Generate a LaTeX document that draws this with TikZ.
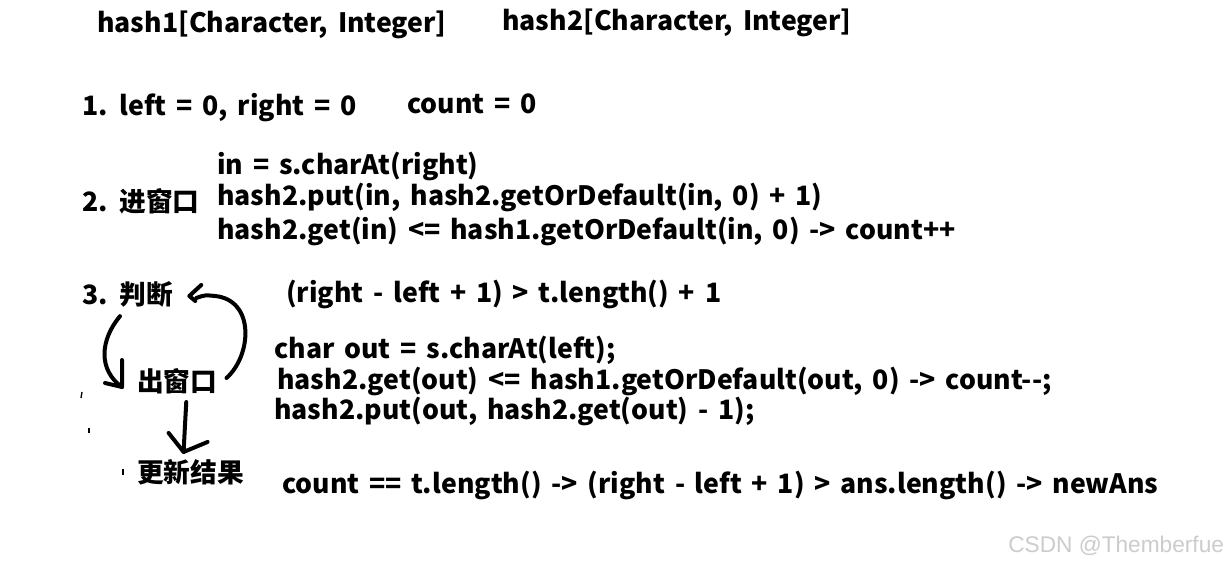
\documentclass[tikz,border=0pt]{standalone}
\usepackage{fontspec}
\setmainfont{Noto Sans CJK SC}[WordSpace=1.6]
\newfontfamily\markfont{Liberation Sans}
\usetikzlibrary{positioning}

\tikzset{
  txt/.style={anchor=west, inner sep=0pt, font=\fontsize{20}{24}\selectfont\bfseries},
  pen/.style={line width=3pt, line cap=round, line join=round},
  speck/.style={line width=1pt}
}

\begin{document}
\begin{tikzpicture}[x=0.75pt, y=-0.75pt]
    \useasboundingbox[fill=white] (0,0) rectangle (1224,566);
    % Hash maps
    \node[txt] (hashA) at (97,25) {hash1[Character, Integer]};
    \node[txt] (hashB) at (502,23) {hash2[Character, Integer]};

    % Step 1
    \node[txt] (init) at (82,108) {1. left = 0, right = 0};
    \node[txt] (cnt) at (407,104) {count = 0};

    % Step 2
    \node[txt] (enter) at (82,201) {2. 进窗口};
    \node[txt] (inA) at (217,166) {in = s.charAt(right)};
    \node[txt] (inB) at (217,197) {hash2.put(in, hash2.getOrDefault(in, 0) + 1)};
    \node[txt] (inC) at (217,231) {hash2.get(in) <= hash1.getOrDefault(in, 0) -> count++};

    % Step 3
    \node[txt] (judge) at (82,294) {3. 判断};
    \node[txt] (cond) at (286,294) {(right - left + 1) > t.length() + 1};
    \node[txt] (out) at (137,381) {出窗口};
    \node[txt] (outA) at (274,350) {char out = s.charAt(left);};
    \node[txt] (outB) at (277,381) {hash2.get(out) <= hash1.getOrDefault(out, 0) -> count-{}-;};
    \node[txt] (outC) at (274,411) {hash2.put(out, hash2.get(out) - 1);};
    \node[txt] (upd) at (137,472) {更新结果};
    \node[txt] (updA) at (282,485) {count == t.length() -> (right - left + 1) > ans.length() -> newAns};

    % Hand-drawn loop
    \coordinate (tipA) at ([shift={(-15,6)}]out.west);
    \draw[pen] ([shift={(38,9)}]judge.south west) .. controls (100,340) and (98,370) .. (tipA);
    \draw[pen] ([shift={(0,-27)}]tipA) -- (tipA) -- ++(-17,-4);
    \coordinate (tipB) at ([shift={(16,2)}]judge.east);
    \draw[pen] ([shift={(9,-3)}]out.east) .. controls (252,355) and (255,300) .. (215,296)
        .. controls (205,295) .. ([shift={(7,2)}]tipB);
    \draw[pen] ([shift={(12,-11)}]tipB) -- (tipB) -- ++(6,5);
    \coordinate (tipC) at ([shift={(-7,-7)}]upd.north);
    \draw[pen] ([shift={(9,8)}]out.south) .. controls (185,425) .. (tipC);
    \draw[pen] ([shift={(-15,-19)}]tipC) -- (tipC) -- ++(24,-10);

    % Stray marks
    \draw[speck] (82,392) -- (81,398);
    \draw[speck] (89,428) -- (89,433);
    \draw[speck] (123,469) -- (123,475);

    % Watermark
    \node[anchor=west, inner sep=0pt, text=gray!40, font=\markfont\fontsize{17}{20}\selectfont] (mark) at (1008,546) {CSDN @Themberfue};
\end{tikzpicture}
\end{document}
